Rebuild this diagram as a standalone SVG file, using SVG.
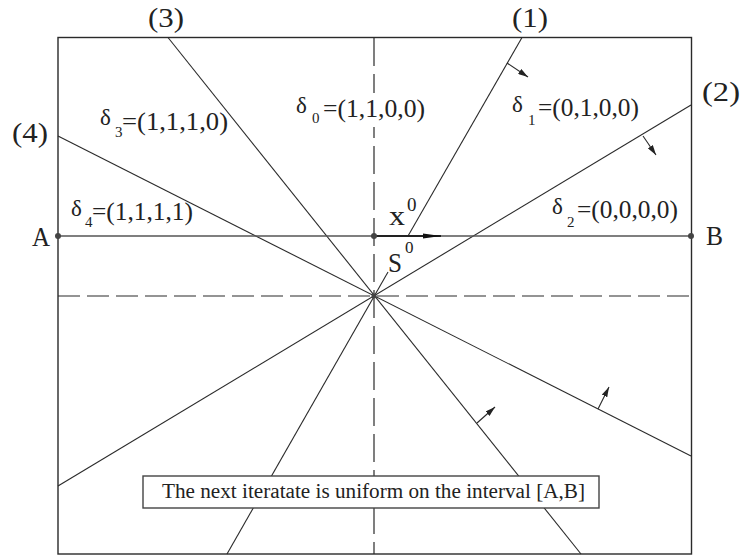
<svg xmlns="http://www.w3.org/2000/svg" width="741" height="558" viewBox="0 0 741 558">
<style>
.ln{stroke:#2a2a2a;stroke-width:1.1;fill:none}
.dash{stroke:#2a2a2a;stroke-width:1.2;fill:none;stroke-dasharray:28 8}
.t{font-family:"Liberation Serif","DejaVu Serif",serif;fill:#222}
.lb{font-size:27px}
.dl{font-size:23px}
.d{font-size:25px}
.sub{font-size:15px}
</style>
<defs>
<marker id="ah" viewBox="0 0 10 6" refX="10" refY="3" markerWidth="10" markerHeight="6" markerUnits="userSpaceOnUse" orient="auto"><path d="M0,0 L10,3 L0,6 Z" fill="#222"/></marker>
<marker id="big" viewBox="0 0 18 7" refX="18" refY="3.5" markerWidth="18" markerHeight="7" markerUnits="userSpaceOnUse" orient="auto"><path d="M0,1 L18,3.5 L0,6 Z" fill="#111"/></marker>
</defs>
<rect width="741" height="558" fill="#fff"/>
<g id="frame"><rect x="58" y="37.5" width="633.5" height="516.5" fill="none" stroke="#2a2a2a" stroke-width="1.4"/></g>
<g id="connectors">
<line class="dash" x1="374" y1="38" x2="374" y2="554"/>
<line class="dash" x1="58" y1="296" x2="691" y2="296" style="stroke-dasharray:22 7"/>
<line class="ln" x1="522" y1="37.5" x2="408" y2="236"/>
<line class="ln" x1="388" y1="272" x2="227" y2="554"/>
<line class="ln" x1="691" y1="105" x2="58" y2="486"/>
<line class="ln" x1="168" y1="37.5" x2="581" y2="554"/>
<line class="ln" x1="58" y1="136" x2="691" y2="456"/>
<line x1="58" y1="236" x2="691" y2="236" stroke="#555" stroke-width="1.6"/>
<line x1="374" y1="236" x2="441" y2="236" stroke="#222" stroke-width="1.8" marker-end="url(#big)"/>
<line class="ln" x1="507" y1="63" x2="528" y2="77" marker-end="url(#ah)"/>
<line class="ln" x1="643" y1="136" x2="656" y2="155" marker-end="url(#ah)"/>
<line class="ln" x1="477" y1="423" x2="495" y2="407" marker-end="url(#ah)"/>
<line class="ln" x1="598" y1="409" x2="609" y2="387" marker-end="url(#ah)"/>
</g>
<g id="points" fill="#444">
<circle cx="58" cy="236" r="3"/>
<circle cx="691" cy="236" r="3"/>
<circle cx="374" cy="236" r="3"/>
<circle cx="374" cy="296" r="2.5"/>
</g>
<g id="labels" class="t">
<text class="lb" x="148" y="27" textLength="36" lengthAdjust="spacingAndGlyphs">(3)</text>
<text class="lb" x="512" y="27" textLength="36" lengthAdjust="spacingAndGlyphs">(1)</text>
<text class="lb" x="702" y="101" textLength="38" lengthAdjust="spacingAndGlyphs">(2)</text>
<text class="lb" x="12" y="142" textLength="36" lengthAdjust="spacingAndGlyphs">(4)</text>
<text class="lb" x="32" y="246" textLength="18" lengthAdjust="spacingAndGlyphs">A</text>
<text class="lb" x="706" y="245" textLength="17" lengthAdjust="spacingAndGlyphs">B</text>
</g>
<g id="delta0" class="t">
<rect x="294" y="93" width="134" height="34" fill="#fff"/>
<text class="dl" x="296" y="113">δ</text><text class="sub" x="312" y="123">0</text>
<text class="d" x="323" y="116.5" textLength="102" lengthAdjust="spacingAndGlyphs">=(1,1,0,0)</text>
</g>
<g id="delta3" class="t">
<text class="dl" x="100" y="125">δ</text><text class="sub" x="115" y="137">3</text>
<text class="d" x="122" y="130" textLength="106" lengthAdjust="spacingAndGlyphs">=(1,1,1,0)</text>
</g>
<g id="delta1" class="t">
<text class="dl" x="512" y="112">δ</text><text class="sub" x="528" y="125">1</text>
<text class="d" x="538" y="116" textLength="101" lengthAdjust="spacingAndGlyphs">=(0,1,0,0)</text>
</g>
<g id="delta4" class="t">
<text class="dl" x="71" y="216">δ</text><text class="sub" x="85" y="227">4</text>
<text class="d" x="92" y="220" textLength="101" lengthAdjust="spacingAndGlyphs">=(1,1,1,1)</text>
</g>
<g id="delta2" class="t">
<text class="dl" x="552" y="214">δ</text><text class="sub" x="567" y="227">2</text>
<text class="d" x="577" y="218" textLength="101" lengthAdjust="spacingAndGlyphs">=(0,0,0,0)</text>
</g>
<g id="x0" class="t">
<text class="lb" x="389" y="225" textLength="16" lengthAdjust="spacingAndGlyphs">x</text>
<text x="407" y="211" style="font-size:19px">0</text>
</g>
<g id="S0" class="t">
<text class="lb" x="388" y="272" textLength="14" lengthAdjust="spacingAndGlyphs">S</text>
<text x="405" y="253" style="font-size:17px">0</text>
</g>
<g id="note">
<rect x="143" y="476" width="456" height="32" fill="#fff" stroke="#444" stroke-width="1.4"/>
<text class="t" x="162" y="498" textLength="423" lengthAdjust="spacingAndGlyphs" style="font-size:20px">The next iteratate is uniform on the interval [A,B]</text>
</g>
</svg>
